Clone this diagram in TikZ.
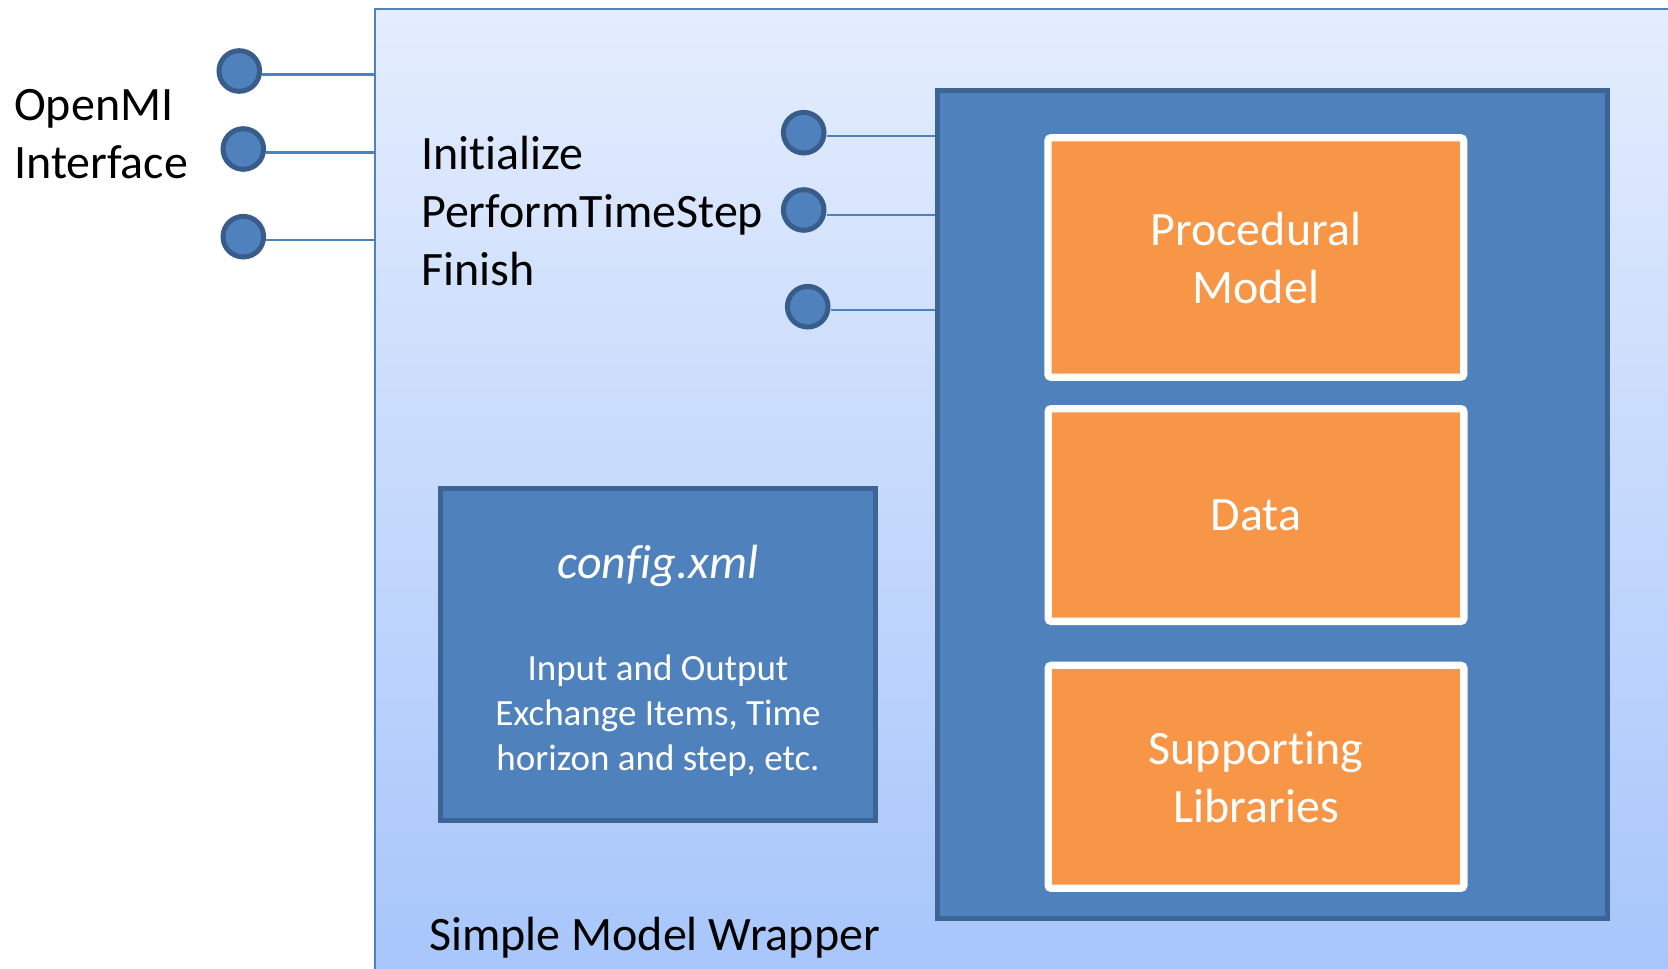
\documentclass[tikz,border=0pt]{standalone}
\usepackage{fontspec}
\setmainfont{Carlito}[Ligatures=NoCommon]
\usetikzlibrary{shadows}

\definecolor{wrapTop}{HTML}{E4EDFD}
\definecolor{wrapBot}{HTML}{A6C5FB}
\definecolor{wrapEdge}{HTML}{4F81BD}
\definecolor{coreFill}{HTML}{4F81BD}
\definecolor{coreEdge}{HTML}{3C6494}
\definecolor{portEdge}{HTML}{385D8A}
\definecolor{partFill}{HTML}{F79646}

\tikzset{
  port/.style={circle, draw=portEdge, line width=5pt, fill=coreFill,
    minimum size=40.6pt, inner sep=0pt},
  wire/.style={draw=wrapEdge, line width=2.5pt},
  corebox/.style={rectangle, draw=coreEdge, line width=5pt, fill=coreFill,
    inner sep=0pt},
  partbox/.style={rectangle, draw=white, line width=7.3pt, fill=partFill,
    rounded corners=3pt, minimum width=415.7pt, inner sep=0pt,
    text=white, align=center, font=\fontsize{48}{58}\selectfont,
    drop shadow={shadow xshift=1pt, shadow yshift=-3pt, opacity=0.35, fill=black}},
  biglabel/.style={inner sep=0pt, align=left, anchor=west,
    font=\fontsize{48}{58}\selectfont},
}

\begin{document}
\begin{tikzpicture}[x=1pt, y=-1pt]
  \useasboundingbox (0,0) rectangle (1668,969);
  \clip (0,0) rectangle (1668,969);

  % wrapper panel, running off the right and bottom edges
  \shade[top color=wrapTop, bottom color=wrapBot, draw=wrapEdge, line width=2pt]
    (375,9) rectangle (1690,990);
  \coordinate (wrapL) at (375,0);

  % OpenMI interface ports on the wrapper
  \node[port] (p1) at (239.3,71) {};
  \node[port] (p2) at (243.3,149) {};
  \node[port] (p3) at (243.3,236.7) {};
  \draw[wire] ([yshift=-3.5pt]p1.east) -- ([yshift=-3.5pt]p1.east -| wrapL);
  \draw[wire] ([yshift=-3.5pt]p2.east) -- ([yshift=-3.5pt]p2.east -| wrapL);
  \draw[wire] ([yshift=-3.5pt]p3.east) -- ([yshift=-3.5pt]p3.east -| wrapL);

  \node[biglabel] (iface) at (14,134) {OpenMI\\Interface};
  \node[biglabel] (calls) at (421,211) {Initialize\\PerformTimeStep\\Finish};
  \node[biglabel] (wrapname) at (429,938) {Simple Model Wrapper};

  % wrapped model
  \node[corebox, minimum width=670pt, minimum height=828pt] (core) at (1272.5,504.5) {};

  \node[port] (q1) at (803.7,132.7) {};
  \node[port] (q2) at (803.7,210) {};
  \node[port] (q3) at (807.7,306.7) {};
  \draw[wire] ([yshift=-3.5pt]q1.east) -- ([yshift=-3.5pt]q1.east -| core.west);
  \draw[wire] ([yshift=-5pt]q2.east) -- ([yshift=-5pt]q2.east -| core.west);
  \draw[wire] ([yshift=-3.5pt]q3.east) -- ([yshift=-3.5pt]q3.east -| core.west);

  \node[partbox, minimum height=239.4pt] (proc) at (1255.8,257.5) {Procedural\\Model};
  \node[partbox, minimum height=212.7pt] (data) at (1256,515) {\raisebox{-2pt}{Data}};
  \node[partbox, minimum height=223pt] (libs) at (1256,776.8) {Supporting\\Libraries};

  % configuration file
  \node[corebox, minimum width=434.4pt, minimum height=332pt] (cfg) at (658,654.2) {};
  \node[inner sep=0pt, text=white, font=\fontsize{48}{58}\selectfont\itshape]
    (cfgname) at (658,566) {config.xml};
  \node[inner sep=0pt, text=white, align=center, font=\fontsize{37}{45}\selectfont]
    (cfgtext) at (658,716) {Input and Output\\Exchange Items, Time\\horizon and step, etc.};
\end{tikzpicture}
\end{document}
